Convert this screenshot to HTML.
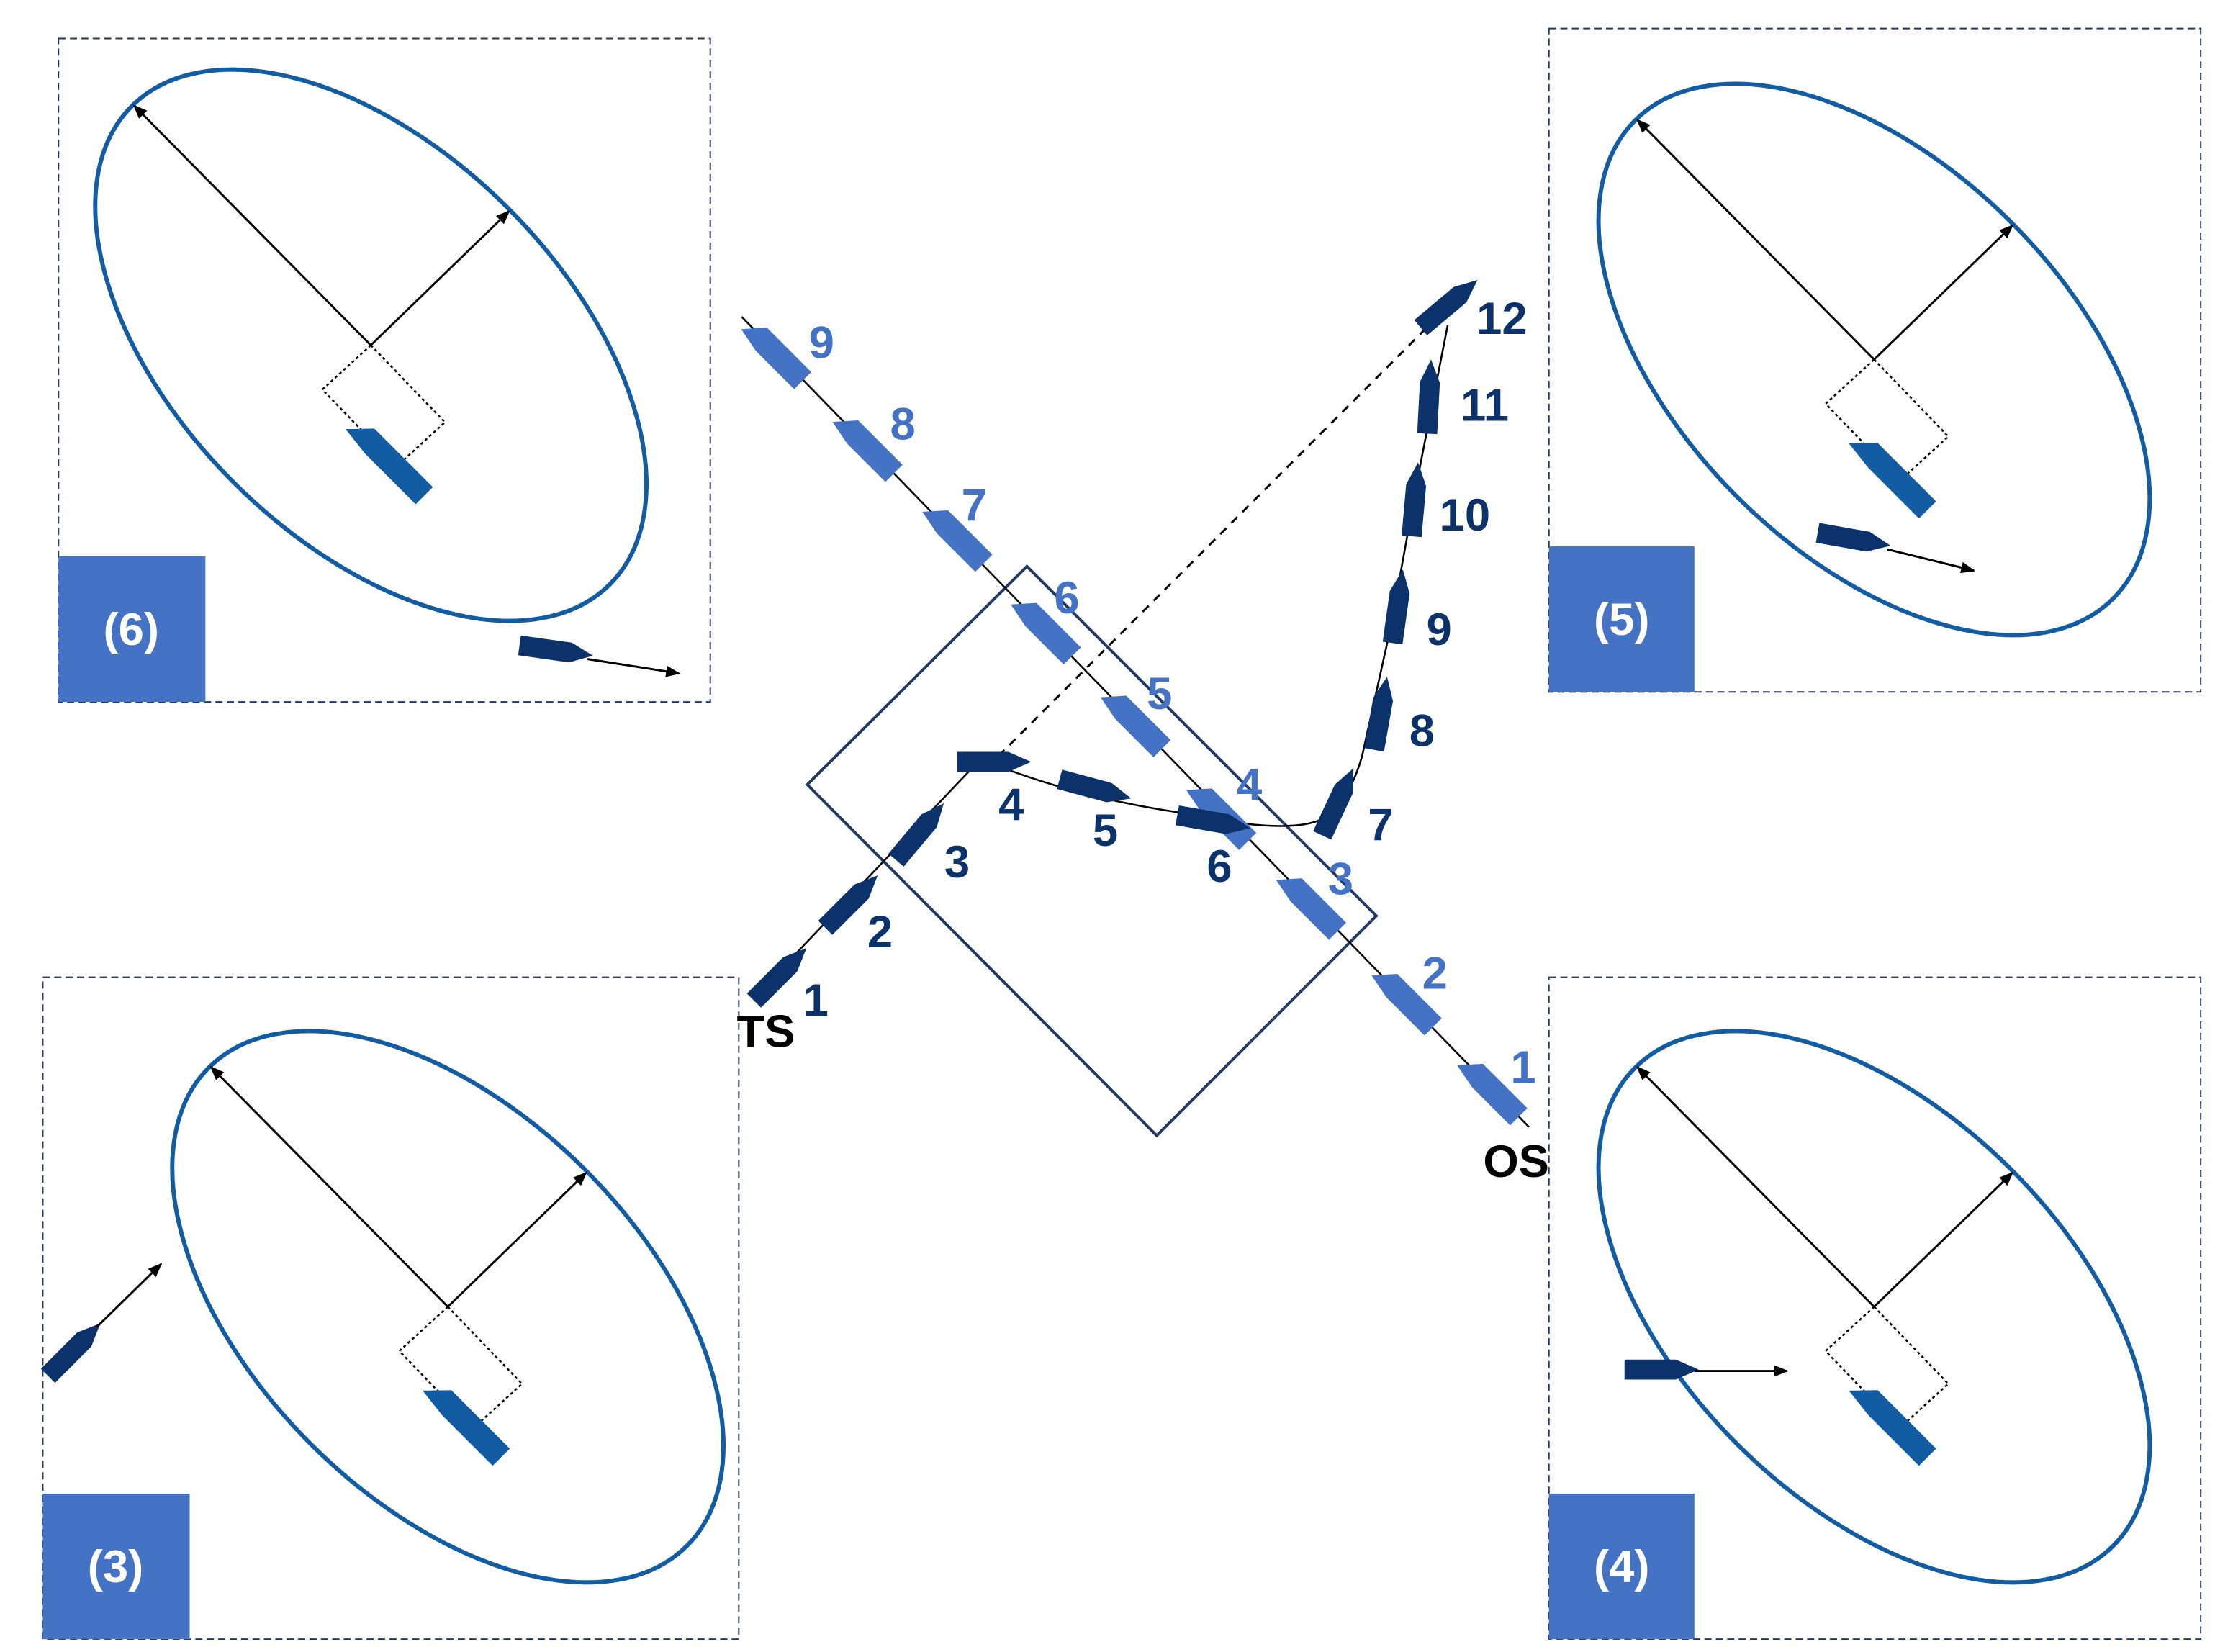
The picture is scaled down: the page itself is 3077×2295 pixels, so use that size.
<!DOCTYPE html>
<html><head><meta charset="utf-8"><style>
html,body{margin:0;padding:0;background:#fff;}
svg{display:block;}
text{font-family:"Liberation Sans",Arial,sans-serif;font-weight:bold;}
</style></head><body>
<svg width="3077" height="2295" viewBox="0 0 1553 1158" preserveAspectRatio="none" xmlns="http://www.w3.org/2000/svg">
<defs>
<path id="ship" d="M-26,-7 L10,-7 L26,0 L10,7 L-26,7 Z"/>
<path id="lship" d="M-28,-8.5 L10,-8.5 L28,-5 L16,8.5 L-28,8.5 Z"/>
<path id="oship" d="M-36,-8.5 L14,-8.5 L36,-6 L22,8.5 L-36,8.5 Z"/>
<marker id="ar" markerWidth="10" markerHeight="8" refX="9" refY="4" orient="auto" markerUnits="userSpaceOnUse"><path d="M0,0 L10,4 L0,8 Z" fill="#000"/></marker>
<g id="panel">
<ellipse cx="0" cy="0" rx="237" ry="136" transform="rotate(45)" fill="none" stroke="#115ca3" stroke-width="3"/>
<line x1="0" y1="0" x2="-166" y2="-168" stroke="#000" stroke-width="1.5" marker-end="url(#ar)"/>
<line x1="0" y1="0" x2="97" y2="-94" stroke="#000" stroke-width="1.5" marker-end="url(#ar)"/>
<polygon points="0,0 -34,31 18,85 52,54" fill="none" stroke="#000" stroke-width="1.3" stroke-dasharray="2,2"/>
<use href="#oship" transform="translate(12,80) rotate(-135)" fill="#115ca3"/>
</g>
</defs>

<g fill="none" stroke="#1f3864" stroke-width="1" stroke-dasharray="5,3">
<rect x="41" y="27" width="457" height="465"/>
<rect x="1086" y="20" width="457" height="465"/>
<rect x="30" y="685" width="488" height="464"/>
<rect x="1086" y="685" width="457" height="464"/>
</g>
<g fill="#4472c4">
<rect x="41" y="390" width="103" height="102"/>
<rect x="1086" y="383" width="102" height="102"/>
<rect x="30" y="1047" width="103" height="102"/>
<rect x="1086" y="1047" width="102" height="102"/>
</g>
<g fill="#fff" font-size="32" text-anchor="middle">
<text x="92" y="452">(6)</text>
<text x="1137" y="445">(5)</text>
<text x="81" y="1109">(3)</text>
<text x="1137" y="1109">(4)</text>
</g>

<use href="#panel" x="260" y="242"/>
<use href="#panel" x="1314" y="252"/>
<use href="#panel" x="314" y="916"/>
<use href="#panel" x="1314" y="916"/>

<g fill="#0b326b">
<use href="#ship" transform="translate(390,456) rotate(8)"/>
<use href="#ship" transform="translate(1300,378) rotate(10)"/>
<use href="#ship" transform="translate(52,946) rotate(-45)"/>
<use href="#ship" transform="translate(1165,960)"/>
</g>
<g stroke="#000" stroke-width="1.5">
<line x1="412" y1="462" x2="476" y2="472" marker-end="url(#ar)"/>
<line x1="1323" y1="385" x2="1384" y2="400" marker-end="url(#ar)"/>
<line x1="68" y1="930" x2="113" y2="886" marker-end="url(#ar)"/>
<line x1="1188" y1="961" x2="1253" y2="961" marker-end="url(#ar)"/>
</g>

<polygon points="720,397 965,642 811,796 566,550" fill="none" stroke="#1f3864" stroke-width="2"/>
<line x1="700" y1="530" x2="1033" y2="197" stroke="#000" stroke-width="1.5" stroke-dasharray="6,5"/>
<line x1="1072" y1="790" x2="520" y2="222" stroke="#000" stroke-width="1.3"/>
<path d="M530,698 L680,540 L700,537 Q760,560 830,570 Q900,585 925,575 Q945,565 955,530 L975,440 L995,330 L1015,228" fill="none" stroke="#000" stroke-width="1.3"/>

<g fill="#4472c4">
<use href="#lship" transform="translate(1045,763) rotate(-135)"/>
<use href="#lship" transform="translate(985,700) rotate(-135)"/>
<use href="#lship" transform="translate(918,633) rotate(-135)"/>
<use href="#lship" transform="translate(855,570) rotate(-135)"/>
<use href="#lship" transform="translate(795,505) rotate(-135)"/>
<use href="#lship" transform="translate(732,440) rotate(-135)"/>
<use href="#lship" transform="translate(670,375) rotate(-135)"/>
<use href="#lship" transform="translate(607,312) rotate(-135)"/>
<use href="#lship" transform="translate(543,247) rotate(-135)"/>
</g>
<g fill="#0b326b">
<use href="#ship" transform="translate(547,683) rotate(-45)"/>
<use href="#ship" transform="translate(597,632) rotate(-45)"/>
<use href="#ship" transform="translate(645,583) rotate(-50)"/>
<use href="#ship" transform="translate(697,534)"/>
<use href="#ship" transform="translate(768,553) rotate(15)"/>
<use href="#ship" transform="translate(851,576) rotate(10)"/>
<use href="#ship" transform="translate(938,562) rotate(-65)"/>
<use href="#ship" transform="translate(968,500) rotate(-80)"/>
<use href="#ship" transform="translate(980,425) rotate(-82)"/>
<use href="#ship" transform="translate(992,350) rotate(-85)"/>
<use href="#ship" transform="translate(1002,278) rotate(-87)"/>
<use href="#ship" transform="translate(1016,213) rotate(-40)"/>
</g>

<g fill="#4472c4" font-size="32" text-anchor="middle">
<text x="1068" y="759">1</text>
<text x="1006" y="693">2</text>
<text x="940" y="627">3</text>
<text x="876" y="561">4</text>
<text x="813" y="497">5</text>
<text x="748" y="430">6</text>
<text x="683" y="365">7</text>
<text x="633" y="308">8</text>
<text x="576" y="251">9</text>
</g>
<g fill="#0b326b" font-size="32" text-anchor="middle">
<text x="572" y="712">1</text>
<text x="617" y="664">2</text>
<text x="671" y="615">3</text>
<text x="709" y="575">4</text>
<text x="775" y="593">5</text>
<text x="855" y="618">6</text>
<text x="968" y="589">7</text>
<text x="997" y="523">8</text>
<text x="1009" y="452">9</text>
<text x="1027" y="372">10</text>
<text x="1041" y="295">11</text>
<text x="1053" y="234">12</text>
</g>
<g fill="#000" font-size="32" text-anchor="middle">
<text x="537" y="734">TS</text>
<text x="1063" y="825">OS</text>
</g>
</svg>
</body></html>
